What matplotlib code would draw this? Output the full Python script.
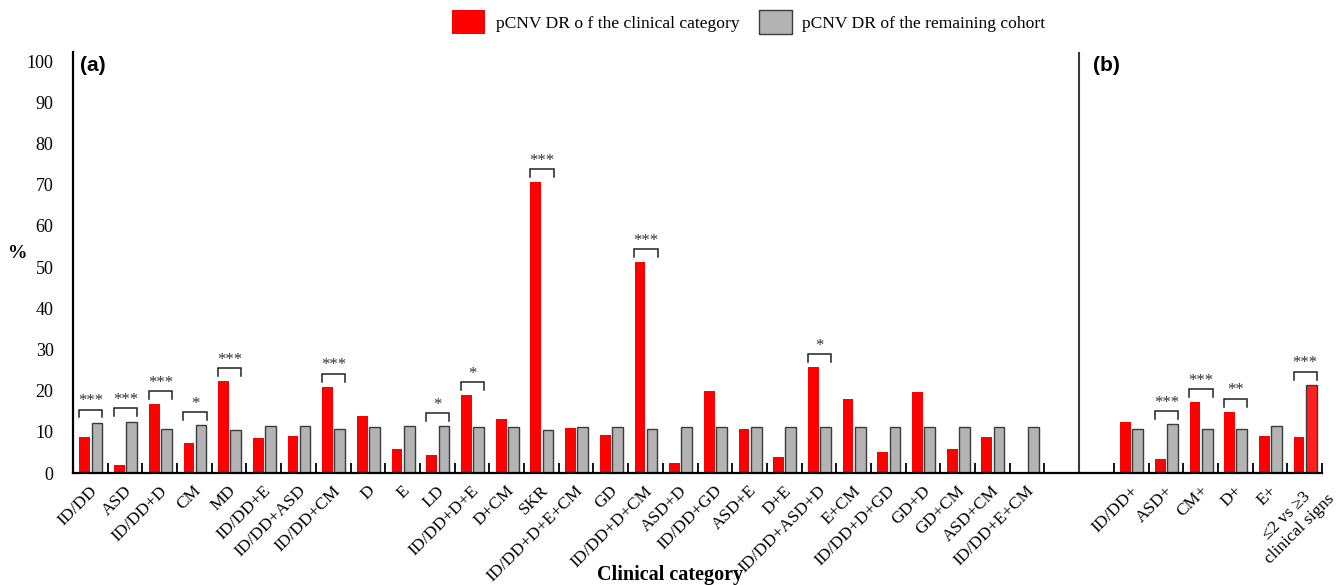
import numpy as np
import matplotlib
matplotlib.use("Agg")
import matplotlib.pyplot as plt
import matplotlib.transforms as mtransforms

plt.rcParams['font.family'] = ['Liberation Serif', 'DejaVu Serif']

# panel (a): single clinical categories and combinations
cats_a = ['ID/DD', 'ASD', 'ID/DD+D', 'CM', 'MD', 'ID/DD+E', 'ID/DD+ASD', 'ID/DD+CM',
          'D', 'E', 'LD', 'ID/DD+D+E', 'D+CM', 'SKR', 'ID/DD+D+E+CM', 'GD',
          'ID/DD+D+CM', 'ASD+D', 'ID/DD+GD', 'ASD+E', 'D+E', 'ID/DD+ASD+D', 'E+CM',
          'ID/DD+D+GD', 'GD+D', 'GD+CM', 'ASD+CM', 'ID/DD+E+CM']
red_a = [8.7, 1.9, 16.7, 7.3, 22.3, 8.5, 9.0, 20.9, 13.8, 5.8, 4.4, 18.9, 13.1, 70.6,
         10.9, 9.2, 51.2, 2.4, 19.9, 10.7, 3.9, 25.7, 18.0, 5.1, 19.7, 5.8, 8.7, 0.0]
gray_a = [12.2, 12.5, 10.7, 11.6, 10.4, 11.3, 11.3, 10.8, 11.1, 11.3, 11.3, 11.1, 11.1, 10.4,
          11.2, 11.2, 10.8, 11.2, 11.1, 11.2, 11.2, 11.1, 11.1, 11.2, 11.1, 11.2, 11.2, 11.2]
sig_a = ['***', '***', '***', '*', '***', '', '', '***', '', '', '*', '*', '', '***',
         '', '', '***', '', '', '', '', '*', '', '', '', '', '', '']

# panel (b): presence of a sign, and number of signs
cats_b = ['ID/DD+', 'ASD+', 'CM+', 'D+', 'E+', '\u22642 vs \u22653\nclinical signs']
red_b = [12.4, 3.4, 17.2, 14.8, 9.0, 8.7]
gray_b = [10.8, 11.8, 10.8, 10.7, 11.3, 21.4]   # last one is the >=3 group
sig_b = ['', '***', '***', '**', '', '***']

slots = list(range(len(cats_a))) + [30 + j for j in range(len(cats_b))]
cats = cats_a + cats_b
red = red_a + red_b
gray = gray_a + gray_b
sig = sig_a + sig_b

fig = plt.figure(figsize=(13.43, 5.85), dpi=100)
ax = fig.add_axes([73 / 1343, 112 / 585, 1249 / 1343, 421.3 / 585])

x = np.array(slots, dtype=float)
w = 0.31
rb = ax.bar(x + 0.34, red, w, color='#ff0000', linewidth=0)
gb = ax.bar(x + 0.69, gray, w, color='#b3b3b3', edgecolor='#3c3c3c', linewidth=1.0)
gb[-1].set_facecolor('#ff1f1f')

# significance brackets
for xi, r, g, s in zip(x, red, gray, sig):
    if not s:
        continue
    y0 = max(r, g) + 1.3
    y1 = y0 + 1.9
    ax.plot([xi + 0.18, xi + 0.18, xi + 0.85, xi + 0.85], [y0, y1, y1, y0],
            color='#222222', lw=1.1, solid_joinstyle='miter')
    ax.text(xi + 0.515, y1 + 0.1, s, ha='center', va='bottom', fontsize=12, color='#333333')

ax.axvline(29, color='#3a3a3a', lw=1.5)

ax.set_xlim(0, 36)
ax.set_ylim(0, 102.3)
ax.set_yticks(range(0, 101, 10))
ax.tick_params(axis='y', length=0, pad=14, labelsize=13)

ax.set_xticks(x + 0.47)
labels = ax.set_xticklabels(cats, rotation=45, ha='right', va='top', rotation_mode='anchor',
                            fontsize=12.5, multialignment='center')
ax.tick_params(axis='x', which='major', length=0, pad=7)
ax.set_xticks([i for i in range(1, 37) if i != 29], minor=True)
ax.tick_params(axis='x', which='minor', direction='in', length=7, width=1.3, color='black')

# the two-line label sits a little further right and up
shift = mtransforms.ScaledTranslation(10 / 100, 5 / 100, fig.dpi_scale_trans)
labels[-1].set_transform(labels[-1].get_transform() + shift)

for side in ['top', 'right']:
    ax.spines[side].set_visible(False)
for side in ['left', 'bottom']:
    ax.spines[side].set_linewidth(1.6)

ax.text(0.2, 99, '(a)', family='Liberation Sans', fontweight='bold', fontsize=15, va='center')
ax.text(29.4, 99, '(b)', family='Liberation Sans', fontweight='bold', fontsize=15, va='center')

fig.text(18 / 1343, 1 - 253 / 585, '%', fontweight='bold', fontsize=14, ha='center', va='center')
fig.text(0.499, 10 / 585, 'Clinical category', fontweight='bold', fontsize=14.5, ha='center', va='center')

fig.legend([rb, gb], ['pCNV DR o f the clinical category', 'pCNV DR of the remaining cohort'],
           loc='upper left', bbox_to_anchor=(452 / 1343, 1 - 10 / 585), ncol=2, frameon=False,
           fontsize=12.6, handlelength=1.9, handleheight=1.7, handletextpad=0.6,
           columnspacing=1.1, borderpad=0, borderaxespad=0)

fig.savefig('out.png', dpi=100)
